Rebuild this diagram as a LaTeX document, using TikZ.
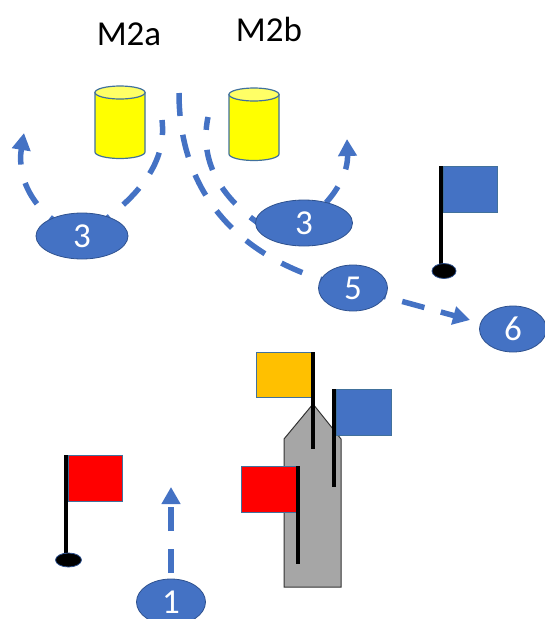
\documentclass[tikz,border=0pt]{standalone}
\usepackage{fontspec}
\setmainfont{Carlito}
\usetikzlibrary{shapes.geometric,arrows.meta}
\pgfdeclarelayer{under}
\pgfsetlayers{under,main}
\definecolor{bluefill}{HTML}{4472C4}
\definecolor{blueedge}{HTML}{41719C}
\definecolor{navyedge}{HTML}{2F528F}
\definecolor{orangefill}{HTML}{FFC000}
\definecolor{lightyellow}{HTML}{FFFF66}
\definecolor{pureyellow}{HTML}{FFFF00}
\definecolor{purered}{HTML}{FF0000}
\definecolor{grayfill}{HTML}{A6A6A6}
\tikzset{
  x=1pt,y=-1pt,
  stepnum/.style={ellipse,draw=navyedge,line width=0.8pt,fill=bluefill,text=white,inner sep=0pt,font=\fontsize{35}{35}\selectfont},
  title/.style={text=black,inner sep=0pt,font=\fontsize{35}{35}\selectfont},
  drumbody/.style={draw=blueedge,line width=1.2pt,fill=pureyellow},
  drumtop/.style={draw=blueedge,line width=1.2pt,fill=lightyellow},
  route/.style={draw=bluefill,line width=5.5pt},
  routehead/.style={route,-{Triangle[length=17pt,width=18pt]}},
  banner/.style={draw=blueedge,line width=0.8pt},
  pole/.style={draw=black,line width=4pt},
  hole/.style={ellipse,fill=black,draw=navyedge,line width=0.8pt,inner sep=0pt},
  hull/.style={draw=black!80,line width=1pt,fill=grayfill,line join=miter}
}
\begin{document}
\begin{tikzpicture}
\useasboundingbox (0,0) rectangle (545,619);
\node[title] (la) at (129,34) {M2a};
\node[title] (lb) at (269,29) {M2b};
% drums
\draw[drumbody] (95,92.5) -- (95,152) arc[x radius=25,y radius=6.5,start angle=180,end angle=0] -- (145,92.5) -- cycle;
\draw[drumtop] (120,92.5) ellipse[x radius=25,y radius=6.5];
\draw[drumbody] (229,94.5) -- (229,154) arc[x radius=25,y radius=6.5,start angle=180,end angle=0] -- (279,94.5) -- cycle;
\draw[drumtop] (254,94.5) ellipse[x radius=25,y radius=6.5];
\node[stepnum,minimum width=92pt,minimum height=46pt] (n3a) at (82,236) {3};
\node[stepnum,minimum width=97pt,minimum height=46pt] (n3b) at (304,223) {3};
\node[stepnum,minimum width=69pt,minimum height=46pt] (n5) at (353,288) {5};
\node[stepnum,minimum width=67pt,minimum height=46pt] (n6) at (513,329) {6};
\node[stepnum,minimum width=69pt,minimum height=46pt] (n1) at (171,602) {1};
\coordinate (s1) at (162,120);
\coordinate (e1) at (24,133);
\coordinate (s2) at (179,93);
\coordinate (s3) at (208,117);
\coordinate (e3) at (347,139);
\coordinate (e5) at (470,320);
\coordinate (e6) at (171,487);
\begin{pgfonlayer}{under}
\draw[route,dash pattern=on 23pt off 18pt,dash phase=8pt] (s1) .. controls (166,155) and (150,192) .. (n3a.center);
\draw[routehead,dash pattern=on 24pt off 19pt,dash phase=30pt] (n3a.center) .. controls (30,215) and (17,175) .. (e1);
\draw[route,dash pattern=on 23pt off 19pt] (s2) .. controls (179,190) and (235,262) .. (n5.center);
\draw[routehead,dash pattern=on 23pt off 17pt,dash phase=29pt] (n5.center) -- (e5);
\draw[route,dash pattern=on 21pt off 20pt,dash phase=8pt] (s3) .. controls (198,165) and (225,205) .. ([shift={(-30,10)}]n3b.center);
\draw[routehead,dash pattern=on 20pt off 19pt,dash phase=9pt] (n3b.center) .. controls (340,195) and (348,170) .. (e3);
\draw[routehead,dash pattern=on 24pt off 18pt,dash phase=13pt] (n1.center) -- (e6);
\end{pgfonlayer}
% gray hull
\draw[hull] (284,439) -- (313,404) -- (341,439) -- (341,587) -- (284,587) -- cycle;
% flags
\draw[banner,fill=bluefill] (443,166) rectangle (497,212);
\draw[pole] (441,166) -- (441,267);
\node[hole,minimum width=24pt,minimum height=15pt] (h1) at (444,271) {};
\draw[banner,fill=purered] (68,455) rectangle (122,501);
\draw[pole] (66,455) -- (66,553);
\node[hole,minimum width=26pt,minimum height=14pt] (h2) at (68.5,560) {};
\draw[banner,fill=orangefill] (256,352) rectangle (312,397);
\draw[pole] (313,352) -- (313,449);
\draw[banner,fill=bluefill] (336,389) rectangle (391,435);
\draw[pole] (334,389) -- (334,487);
\draw[banner,fill=purered] (241,466) rectangle (297,512);
\draw[pole] (298,466) -- (298,564);
\end{tikzpicture}
\end{document}
